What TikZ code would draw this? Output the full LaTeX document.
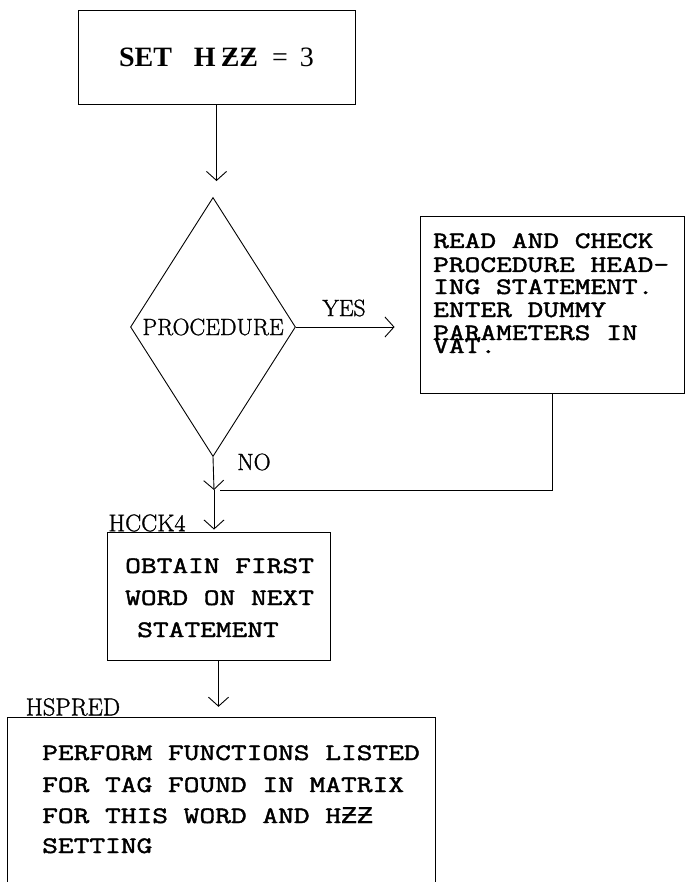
\documentclass[tikz,border=0pt]{standalone}
\usepackage{fontspec}
\newfontfamily\twfont[FakeBold=1.8,FakeStretch=1.3]{Latin Modern Mono}
\newfontfamily\zfont[FakeBold=0.6,FakeStretch=1.11]{Liberation Mono}
\newfontfamily\topfont{Liberation Serif}
\newfontfamily\labfont[FakeBold=1.2]{Latin Modern Roman}
\usetikzlibrary{arrows.meta,shapes.geometric}
\begin{document}
\begin{tikzpicture}[x=1pt,y=-1pt,
  ln/.style={line width=0.9pt},
  arr/.style={ln,-{Straight Barb[length=9pt,width=20pt,line width=0.9pt]}},
  boxn/.style={draw,ln,inner sep=0pt},
  tw/.style={inner sep=0pt,anchor=base west,font=\twfont\fontsize{23.5}{23.5}\selectfont},
  sf/.style={inner sep=0pt,font=\labfont\fontsize{23.5}{23.5}\selectfont}
]
\useasboundingbox (0,0) rectangle (685,882);
% top box
\node[boxn,minimum width=277pt,minimum height=94pt,font=\topfont\fontsize{28}{28}\selectfont] (set) at (216.5,57)
  {\textbf{SET}\hspace{22pt}\textbf{H}\hspace{5pt}\textbf{ƵƵ}\hspace{14pt}=\hspace{12pt}3};
% decision
\node[draw,ln,diamond,inner sep=0pt,minimum width=165pt,minimum height=259pt,font=\labfont\fontsize{23.5}{23.5}\selectfont] (proc) at (213,327) {PROCEDURE};
% right box
\node[boxn,minimum width=264pt,minimum height=177pt] (rbox) at (552,304.5) {};
\foreach \t/\y [count=\i] in {READ AND CHECK/248,PROCEDURE HEAD-/272,ING STATEMENT./294,ENTER DUMMY/317,PARAMETERS IN/340,VAT./353}
  \node[tw] (r\i) at (433,\y) {\t};
% HCCK4 box
\node[boxn,minimum width=223pt,minimum height=128pt] (hbox) at (218.5,596) {};
\node[tw] (h1) at (125,573) {OBTAIN FIRST};
\node[tw] (h2) at (125,605) {WORD ON NEXT};
\node[tw] (h3) at (137,637) {STATEMENT};
% bottom box
\node[inner sep=0pt,minimum width=427pt,minimum height=164pt] (bbox) at (221.5,800) {};
\draw[ln] (bbox.south west) -- (bbox.north west) -- (bbox.north east) -- (bbox.south east);
\node[tw] (b1) at (42,760) {PERFORM FUNCTIONS LISTED};
\node[tw] (b2) at (42,792) {FOR TAG FOUND IN MATRIX};
\node[tw] (b3) at (42,823) {FOR THIS WORD AND H{\zfont\fontsize{24}{24}\selectfont ƵƵ}};
\node[tw] (b4) at (42,853) {SETTING};
% labels
\node[sf] (yes) at (344,308) {YES};
\node[sf] (no) at (254,462) {NO};
\node[sf,font=\labfont\fontsize{24}{24}\selectfont] (hcck) at (147,523) {HCCK4};
\node[sf,font=\labfont\fontsize{24.5}{24.5}\selectfont] (hspred) at (73,707) {HSPRED};
% connectors
\coordinate (j) at (214,490);
\draw[arr,shorten >=16pt] (set.south) -- (set.south |- proc.north);
\draw[arr,shorten >=25pt] (proc.east) -- (rbox.west |- proc.east);
\draw[arr] (proc.south) -- (j);
\draw[arr,shorten >=2pt] (j) -- (j |- hbox.north);
\draw[ln] (rbox.south) -- (rbox.south |- j) -- ([xshift=6pt]j);
\draw[arr,shorten >=11pt] (hbox.south) -- (hbox.south |- bbox.north);
\end{tikzpicture}
\end{document}
